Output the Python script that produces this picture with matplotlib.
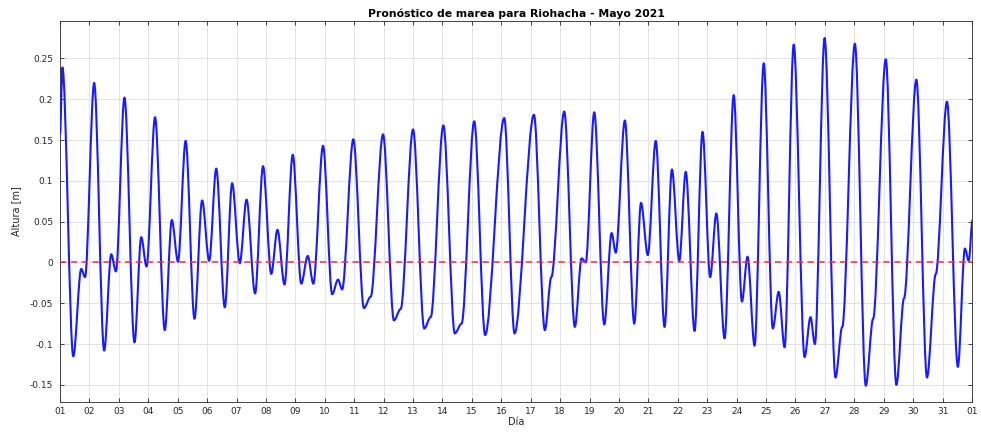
import numpy as np
import matplotlib
matplotlib.use("Agg")
import matplotlib.pyplot as plt
from matplotlib.path import Path
from matplotlib.patches import PathPatch

# Tide turning points (days since 1 May 00:00, height in m)
dias = [0.00, 0.08, 0.45, 0.72, 0.85, 1.16, 1.50, 1.74, 1.90, 2.19, 2.53, 2.76, 2.94,
        3.23, 3.56, 3.80, 4.01, 4.27, 4.57, 4.83, 5.07, 5.31, 5.60, 5.85, 6.11, 6.34,
        6.63, 6.90, 7.18, 7.39, 7.63, 7.91, 8.20, 8.42, 8.61, 8.94, 9.25, 9.45, 9.59,
        9.97, 10.33, 10.56, 10.98, 11.35, 11.58, 12.00, 12.38, 12.60, 13.03, 13.42,
        13.65, 14.08, 14.45, 15.10, 15.45, 16.11, 16.48, 16.70, 17.14, 17.50, 17.73,
        17.87, 18.16, 18.50, 18.75, 18.89, 19.20, 19.52, 19.75, 19.98, 20.25, 20.55,
        20.80, 21.05, 21.27, 21.57, 21.84, 22.10, 22.31, 22.59, 22.90, 23.18, 23.37,
        23.61, 23.92, 24.23, 24.43, 24.63, 24.94, 25.31, 25.51, 25.66, 25.99, 26.36,
        26.59, 27.02, 27.39, 27.64, 28.07, 28.43, 28.69, 29.11, 29.47, 29.77, 30.15,
        30.52, 30.76, 30.89, 31.02]
altura = [0.157, 0.239, -0.115, -0.008, -0.018, 0.220, -0.108, 0.010, -0.011, 0.202,
          -0.098, 0.031, -0.005, 0.178, -0.083, 0.052, 0.001, 0.149, -0.069, 0.076,
          0.002, 0.115, -0.055, 0.097, -0.001, 0.077, -0.038, 0.118, -0.014, 0.040,
          -0.027, 0.132, -0.026, 0.008, -0.026, 0.143, -0.039, -0.021, -0.033, 0.151,
          -0.056, -0.042, 0.157, -0.071, -0.057, 0.163, -0.081, -0.067, 0.168, -0.087,
          -0.075, 0.173, -0.089, 0.177, -0.087, 0.181, -0.083, -0.018, 0.185, -0.079,
          0.005, 0.000, 0.184, -0.076, 0.036, 0.012, 0.174, -0.075, 0.073, 0.009,
          0.149, -0.079, 0.114, 0.002, 0.111, -0.084, 0.160, -0.018, 0.060, -0.093,
          0.205, -0.048, 0.007, -0.102, 0.244, -0.081, -0.036, -0.104, 0.267, -0.116,
          -0.067, -0.100, 0.275, -0.141, -0.079, 0.268, -0.151, -0.069, 0.249, -0.150,
          -0.044, 0.224, -0.141, -0.014, 0.197, -0.128, 0.017, 0.002, 0.052]

dia_ticks = list(range(0, 32))
dia_labels = ["%02d" % d for d in range(1, 32)] + ["01"]
y_ticks = [-0.15, -0.1, -0.05, 0, 0.05, 0.1, 0.15, 0.2, 0.25]
y_labels = ["-0.15", "-0.1", "-0.05", "0", "0.05", "0.1", "0.15", "0.2", "0.25"]

gris = "#262626"


def tide_path(t, h):
    """Smooth path through turning points (flat tangent at each one)"""
    verts = [(t[0], h[0])]
    codes = [Path.MOVETO]
    for i in range(1, len(t)):
        dt = t[i] - t[i - 1]
        verts += [(t[i - 1] + dt / 3.0, h[i - 1]), (t[i] - dt / 3.0, h[i]), (t[i], h[i])]
        codes += [Path.CURVE4] * 3
    return Path(verts, codes)


fig = plt.figure(figsize=(9.81, 4.36), dpi=100)
ax = fig.add_axes([0.0612, 0.078, 0.9296, 0.874])

ax.add_patch(PathPatch(tide_path(dias, altura), fill=False, edgecolor="#1a1aff",
                       lw=1.5, joinstyle="round", zorder=3))
ax.axhline(0, color="#f03040", ls="--", lw=1.3, dashes=(3.5, 2.5), alpha=0.85, zorder=4)

ax.set_xlim(0, 31)
ax.set_ylim(-0.171, 0.296)
ax.set_xticks(dia_ticks)
ax.set_xticklabels(dia_labels)
ax.set_yticks(y_ticks)
ax.set_yticklabels(y_labels)

ax.grid(True, color="#dedede", lw=0.6)
ax.set_axisbelow(True)
ax.tick_params(direction="in", length=3, width=0.6, colors=gris, labelsize=6.5,
               top=True, right=True)
ax.tick_params(axis="y", pad=5)
for s in ax.spines.values():
    s.set_color(gris)
    s.set_linewidth(0.6)

ax.set_title("Pronóstico de marea para Riohacha - Mayo 2021", fontsize=7.8,
             fontweight="bold", color="black", pad=3)
ax.set_xlabel("Día", fontsize=7, color=gris, labelpad=1)
ax.set_ylabel("Altura [m]", fontsize=7, color=gris, labelpad=6)

fig.savefig("out.png", dpi=100)
